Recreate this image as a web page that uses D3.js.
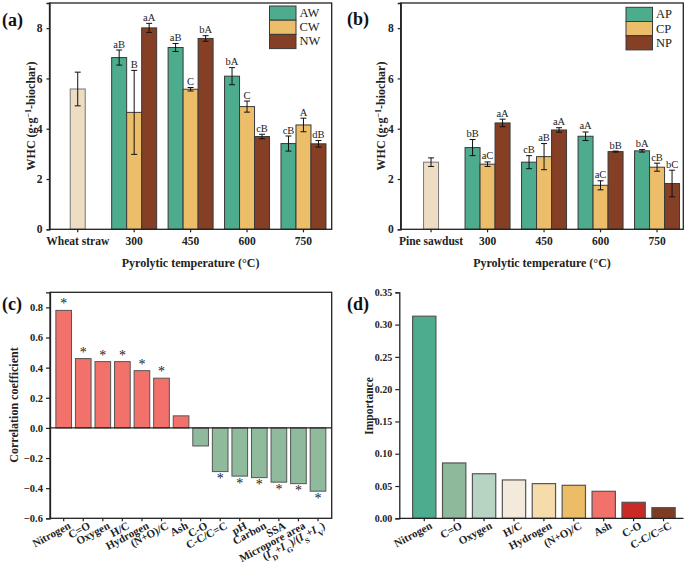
<!DOCTYPE html>
<html><head><meta charset="utf-8">
<script src="https://cdn.jsdelivr.net/npm/d3@7"></script>
<style>body{margin:0;background:#fff}svg{display:block}</style>
</head><body>
<svg id="c" width="685" height="572"></svg>
<script>
// ---------- DATA ----------
const tempCats = ["300","450","600","750"];
// Panel (a) wheat straw
const rawA = {name:"Wheat straw", value:5.58, err:0.67};
const seriesA = ["AW","CW","NW"];
const aAW = [6.83,7.23,6.09,3.41], aAWerr=[0.30,0.16,0.34,0.30], aAWlab=["aB","aB","bA","cB"];
const aCW = [4.65,5.57,4.88,4.15], aCWerr=[1.67,0.07,0.22,0.27], aCWlab=["B","C","C","A"];
const aNW = [8.01,7.59,3.69,3.40], aNWerr=[0.18,0.11,0.09,0.13], aNWlab=["aA","bA","cB","dB"];
// Panel (b) pine sawdust
const rawB = {name:"Pine sawdust", value:2.67, err:0.17};
const seriesB = ["AP","CP","NP"];
const bAP = [3.25,2.67,3.70,3.12], bAPerr=[0.32,0.26,0.17,0.05], bAPlab=["bB","cB","aA","bA"];
const bCP = [2.59,2.89,1.75,2.47], bCPerr=[0.09,0.52,0.18,0.16], bCPlab=["aC","aB","aC","cB"];
const bNP = [4.23,3.95,3.09,1.82], bNPerr=[0.15,0.09,0.02,0.53], bNPlab=["aA","aA","bB","bC"];
const whcTicks = [0,2,4,6,8];
// Panel (c) correlation
const corrCats = ["Nitrogen","C=O","Oxygen","H/C","Hydrogen","(N+O)/C","Ash","C-O","C-C/C=C","pH","Carbon","SSA","Micropore area","IDIG"];
const corrVals = [0.78,0.46,0.44,0.44,0.38,0.33,0.08,-0.12,-0.29,-0.32,-0.33,-0.36,-0.37,-0.42];
const corrSig  = [1,1,1,1,1,1,0,0,1,1,1,1,1,1];
const corrTicks = [-0.6,-0.4,-0.2,0.0,0.2,0.4,0.6,0.8];
// Panel (d) importance
const impCats = ["Nitrogen","C=O","Oxygen","H/C","Hydrogen","(N+O)/C","Ash","C-O","C-C/C=C"];
const impVals = [0.313,0.0857,0.069,0.0594,0.0537,0.0511,0.0418,0.0248,0.0165];
const impColors = ["#4dab8e","#8fb99b","#b6d4c1","#f3eadb","#f6dcaa","#ecbd66","#f2716b","#c92a26","#7e3d22"];
const impTicks = [0,0.05,0.10,0.15,0.20,0.25,0.30,0.35];

const colTeal="#4dab8e", colOrange="#edbe6a", colBrown="#843f24", colRaw="#eeddc2";
const colRed="#f2716b", colGreen="#8fba9c";
const FONT = "'Liberation Serif','Times New Roman',serif";

const svg = d3.select("#c").style("font-family", FONT);

function whcPanel(o){
  const g = svg.append("g");
  const cats = [o.raw.name].concat(tempCats);
  const x = d3.scaleBand().domain(cats).range(o.xr).padding(0);
  const y = d3.scaleLinear().domain([0,9]).range([229.3,3]);
  const sub = d3.scaleBand().domain(o.series).range([-22.5,22.5]);
  const cols = [colTeal,colOrange,colBrown];
  // raw bar
  const cx0 = x(o.raw.name)+x.bandwidth()/2;
  g.append("rect").attr("x",cx0-7.5).attr("width",15).attr("y",y(o.raw.value))
    .attr("height",y(0)-y(o.raw.value)).attr("fill",colRaw).attr("stroke","#777").attr("stroke-width",1);
  errbar(g, cx0, y(o.raw.value+o.raw.err), y(o.raw.value-o.raw.err));
  o.series.forEach((s,si)=>{
    tempCats.forEach((c,ci)=>{
      const cx = x(c)+x.bandwidth()/2 + sub(s);
      const v = o.vals[si][ci], e = o.errs[si][ci];
      g.append("rect").attr("x",cx).attr("width",sub.bandwidth()).attr("y",y(v))
        .attr("height",y(0)-y(v)).attr("fill",cols[si]).attr("stroke","#3a3a3a").attr("stroke-width",1);
      const mx = cx+sub.bandwidth()/2;
      errbar(g, mx, y(v+e), y(v-e));
      g.append("text").attr("x",mx).attr("y",y(v+e)-2.5).attr("text-anchor","middle")
        .attr("font-size",10.5).attr("fill","#222").text(o.labs[si][ci]);
    });
  });
  // frame
  g.append("rect").attr("x",o.fx[0]).attr("y",3).attr("width",o.fx[1]-o.fx[0]).attr("height",226.3)
    .attr("fill","none").attr("stroke","#222").attr("stroke-width",1.3);
  // y axis
  const ya = g.append("g").attr("transform",`translate(${o.fx[0]},0)`)
    .call(d3.axisLeft(y).tickValues(whcTicks).tickSize(3).tickPadding(4).tickFormat(d3.format("d")));
  styleAxis(ya, 11.5);
  const xa = g.append("g").attr("transform",`translate(0,229.3)`)
    .call(d3.axisBottom(x).tickSize(3).tickPadding(5));
  styleAxis(xa, 11.5);
  xa.select(".domain").remove();
  // titles
  const yt = g.append("text").attr("transform",`translate(${o.ytx},116) rotate(-90)`)
    .attr("text-anchor","middle").attr("font-size",12).attr("font-weight","bold").attr("fill","#222");
  yt.append("tspan").text("WHC (g·g");
  yt.append("tspan").attr("baseline-shift","super").attr("font-size",8).text("−1");
  yt.append("tspan").text("-biochar)");
  g.append("text").attr("x",(o.fx[0]+o.fx[1])/2).attr("y",267).attr("text-anchor","middle")
    .attr("font-size",12).attr("font-weight","bold").attr("fill","#222").text("Pyrolytic temperature (°C)");
  g.append("text").attr("x",o.lab[0]).attr("y",o.lab[1]).attr("font-size",18).attr("font-weight","bold")
    .attr("fill","#111").text(o.letter);
  // legend
  o.series.forEach((s,i)=>{
    g.append("rect").attr("x",o.leg[0]).attr("y",o.leg[1]+i*14.2).attr("width",26.5).attr("height",14.2)
      .attr("fill",cols[i]).attr("stroke","#3a3a3a").attr("stroke-width",1);
    g.append("text").attr("x",o.leg[0]+30).attr("y",o.leg[1]+i*14.2+11).attr("font-size",12.5)
      .attr("fill","#222").text(s);
  });
}
function errbar(g, x, y1, y2){
  g.append("line").attr("x1",x).attr("x2",x).attr("y1",y1).attr("y2",y2).attr("stroke","#111").attr("stroke-width",1);
  [y1,y2].forEach(yy=>g.append("line").attr("x1",x-3).attr("x2",x+3).attr("y1",yy).attr("y2",yy).attr("stroke","#111").attr("stroke-width",1));
}
function styleAxis(a, fs){
  a.selectAll("text").attr("font-size",fs).attr("font-weight","bold").attr("fill","#222").attr("font-family",FONT);
  a.selectAll("line").attr("stroke","#222").attr("stroke-width",1.2);
  a.select(".domain").attr("stroke","#222").attr("stroke-width",1.3);
}

whcPanel({raw:rawA, series:seriesA, vals:[aAW,aCW,aNW], errs:[aAWerr,aCWerr,aNWerr], labs:[aAWlab,aCWlab,aNWlab],
  xr:[49.5,331.7], fx:[49.5,331.7], ytx:35, lab:[2,26], letter:"(a)", leg:[269.5,6]});
whcPanel({raw:rawB, series:seriesB, vals:[bAP,bCP,bNP], errs:[bAPerr,bCPerr,bNPerr], labs:[bAPlab,bCPlab,bNPlab],
  xr:[402.8,685.3], fx:[400.7,683.3], ytx:385, lab:[347,25], letter:"(b)", leg:[626,7.3]});

// label builder with special last label
function buildLabel(t, d){
  if(d==="IDIG"){
    const parts=[["(",0],["I",1],["D",2],["+",0],["I",1],["G",2],[")/(",0],["I",1],["S",2],["+",0],["I",1],["V",2],[")",0]];
    parts.forEach(p=>{
      const ts=t.append("tspan").text(p[0]);
      if(p[1]===1) ts.attr("font-style","italic");
      if(p[1]===2) ts.attr("baseline-shift","sub").attr("font-size","70%");
    });
  } else t.text(d);
}

// ---------- Panel (c) ----------
{
  const g = svg.append("g");
  const x = d3.scaleBand().domain(corrCats).range([50,331.7]).paddingInner(0.2).paddingOuter(0.3);
  const y = d3.scaleLinear().domain([-0.6,0.9]).range([518.3,292.3]);
  corrCats.forEach((c,i)=>{
    const v=corrVals[i];
    g.append("rect").attr("x",x(c)).attr("width",x.bandwidth()).attr("y",y(Math.max(0,v)))
      .attr("height",Math.abs(y(v)-y(0))).attr("fill",v>=0?colRed:colGreen).attr("stroke","#555").attr("stroke-width",1);
    if(corrSig[i]){
      g.append("text").attr("x",x(c)+x.bandwidth()/2).attr("y",v>=0?y(v)-2:y(v)+11.5)
        .attr("text-anchor","middle").attr("font-size",14).attr("fill","#222").text("*");
    }
  });
  g.append("line").attr("x1",50).attr("x2",331.7).attr("y1",y(0)).attr("y2",y(0)).attr("stroke","#222").attr("stroke-width",1.3);
  g.append("rect").attr("x",50).attr("y",292.3).attr("width",281.7).attr("height",226).attr("fill","none")
    .attr("stroke","#222").attr("stroke-width",1.3);
  const ya = g.append("g").attr("transform","translate(50,0)")
    .call(d3.axisLeft(y).tickValues(corrTicks).tickSize(4).tickPadding(3).tickFormat(d=>d3.format(".1f")(d).replace("-","−")));
  styleAxis(ya, 10.5);
  const xa = g.append("g").attr("transform","translate(0,518.3)").call(d3.axisBottom(x).tickSize(3).tickFormat(""));
  styleAxis(xa, 10.5); xa.select(".domain").remove();
  corrCats.forEach(c=>{
    const t = g.append("text").attr("transform",`translate(${x(c)+x.bandwidth()/2+4},521) rotate(-28)`)
      .attr("text-anchor","end").attr("dy","0.72em").attr("font-size",11).attr("font-weight","bold").attr("fill","#222");
    buildLabel(t,c);
  });
  g.append("text").attr("transform","translate(18,405) rotate(-90)").attr("text-anchor","middle")
    .attr("font-size",12).attr("font-weight","bold").attr("fill","#222").text("Correlation coefficient");
  g.append("text").attr("x",2).attr("y",310).attr("font-size",18).attr("font-weight","bold").attr("fill","#111").text("(c)");
}

// ---------- Panel (d) ----------
{
  const g = svg.append("g");
  const x = d3.scaleBand().domain(impCats).range([412.6,675.2]).paddingInner(0.22).paddingOuter(0);
  const y = d3.scaleLinear().domain([0,0.35]).range([518.3,292.3]);
  impCats.forEach((c,i)=>{
    g.append("rect").attr("x",x(c)).attr("width",x.bandwidth()).attr("y",y(impVals[i]))
      .attr("height",y(0)-y(impVals[i])).attr("fill",impColors[i]).attr("stroke","#555").attr("stroke-width",1.2);
  });
  const ya = g.append("g").attr("transform","translate(399.3,0)")
    .call(d3.axisLeft(y).tickValues(impTicks).tickSize(4).tickPadding(3).tickFormat(d3.format(".2f")));
  styleAxis(ya, 10);
  const xa = g.append("g").attr("transform","translate(0,518.3)").call(d3.axisBottom(x).tickSize(3).tickFormat(""));
  styleAxis(xa, 10); xa.select(".domain").remove();
  g.append("line").attr("x1",399.3).attr("x2",683.5).attr("y1",518.3).attr("y2",518.3).attr("stroke","#222").attr("stroke-width",1.3);
  impCats.forEach(c=>{
    const t = g.append("text").attr("transform",`translate(${x(c)+x.bandwidth()/2+5},521) rotate(-28)`)
      .attr("text-anchor","end").attr("dy","0.72em").attr("font-size",11).attr("font-weight","bold").attr("fill","#222");
    buildLabel(t,c);
  });
  g.append("text").attr("transform","translate(372.5,406) rotate(-90)").attr("text-anchor","middle")
    .attr("font-size",11.5).attr("font-weight","bold").attr("fill","#222").text("Importance");
  g.append("text").attr("x",347).attr("y",310).attr("font-size",18).attr("font-weight","bold").attr("fill","#111").text("(d)");
}
</script>
</body></html>
